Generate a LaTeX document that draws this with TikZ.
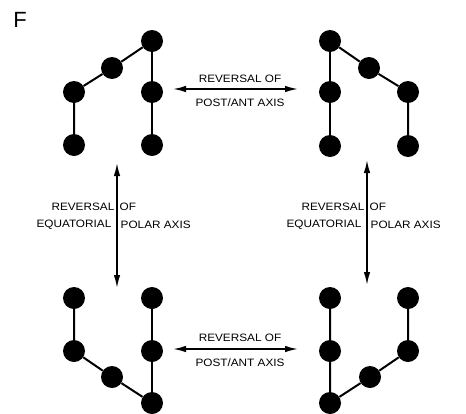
\documentclass[tikz,border=0pt]{standalone}
\usepackage{fontspec}
\setmainfont{Liberation Sans}
\newfontfamily\lblfont[FakeStretch=1.1]{Liberation Sans}
\usetikzlibrary{arrows.meta}
\tikzset{
    atom/.style={circle, fill=black, minimum size=22pt, inner sep=0pt},
    bond/.style={line width=2pt},
    flip/.style={{Latex[length=13pt,width=6.5pt]}-{Latex[length=13pt,width=6.5pt]}, line width=1.6pt},
    lbl/.style={font={\lblfont\fontsize{10.7}{12}\selectfont}, inner sep=0pt}
}
\begin{document}
\begin{tikzpicture}[x=1pt, y=-1pt]
        \useasboundingbox (0,0) rectangle (466,413);
        \node[font=\fontsize{22}{24}\selectfont, inner sep=0pt] (panel) at (20,20) {F};

        % Top left chain
        \node[atom] (t1) at (152,41) {};
        \node[atom] (t2) at (112,68) {};
        \node[atom] (t3) at (74,92) {};
        \node[atom] (t4) at (152,92) {};
        \node[atom] (t5) at (74,145) {};
        \node[atom] (t6) at (152,145) {};
        \draw[bond] (t1) -- (t2) -- (t3) -- (t5);
        \draw[bond] (t1) -- (t4) -- (t6);

        % Top right chain
        \node[atom] (a1) at (330,41) {};
        \node[atom] (a2) at (369,68) {};
        \node[atom] (a3) at (408,92) {};
        \node[atom] (a4) at (330,92) {};
        \node[atom] (a5) at (330,146) {};
        \node[atom] (a6) at (408,146) {};
        \draw[bond] (a1) -- (a2) -- (a3) -- (a6);
        \draw[bond] (a1) -- (a4) -- (a5);

        % Bottom left chain
        \node[atom] (b1) at (74,298) {};
        \node[atom] (b2) at (152,298) {};
        \node[atom] (b3) at (74,351) {};
        \node[atom] (b4) at (152,351) {};
        \node[atom] (b5) at (112,377) {};
        \node[atom] (b6) at (152,403) {};
        \draw[bond] (b1) -- (b3) -- (b5) -- (b6);
        \draw[bond] (b2) -- (b4) -- (b6);

        % Bottom right chain
        \node[atom] (c1) at (330,298) {};
        \node[atom] (c2) at (408,298) {};
        \node[atom] (c3) at (330,351) {};
        \node[atom] (c4) at (408,351) {};
        \node[atom] (c5) at (370,377) {};
        \node[atom] (c6) at (330,403) {};
        \draw[bond] (c1) -- (c3) -- (c6) -- (c5) -- (c4) -- (c2);

        % Post/ant reversals
        \coordinate (h1w) at (173,89);
        \coordinate (h1e) at (298,89);
        \draw[flip] (h1w) -- (h1e);
        \node[lbl] (h1a) at (240,79) {REVERSAL OF};
        \node[lbl] (h1b) at (240,103) {POST/ANT AXIS};

        \coordinate (h2w) at (173,349);
        \coordinate (h2e) at (298,349);
        \draw[flip] (h2w) -- (h2e);
        \node[lbl] (h2a) at (240,338) {REVERSAL OF};
        \node[lbl] (h2b) at (240,363) {POST/ANT AXIS};

        % Polar reversals
        \coordinate (v1n) at (117,163);
        \coordinate (v1s) at (117,288);
        \draw[flip] (v1n) -- (v1s);
        \node[lbl, anchor=east] (v1a) at (114.5,207) {REVERSAL};
        \node[lbl, anchor=west] (v1b) at (119.5,207) {OF};
        \node[lbl, anchor=east] (v1c) at (111.5,225) {EQUATORIAL};
        \node[lbl, anchor=west] (v1d) at (120.5,225) {POLAR AXIS};

        \coordinate (v2n) at (367,160);
        \coordinate (v2s) at (367,285);
        \draw[flip] (v2n) -- (v2s);
        \node[lbl, anchor=east] (v2a) at (364.5,207) {REVERSAL};
        \node[lbl, anchor=west] (v2b) at (369.5,207) {OF};
        \node[lbl, anchor=east] (v2c) at (361.5,225) {EQUATORIAL};
        \node[lbl, anchor=west] (v2d) at (370.5,225) {POLAR AXIS};
    \end{tikzpicture}
\end{document}
